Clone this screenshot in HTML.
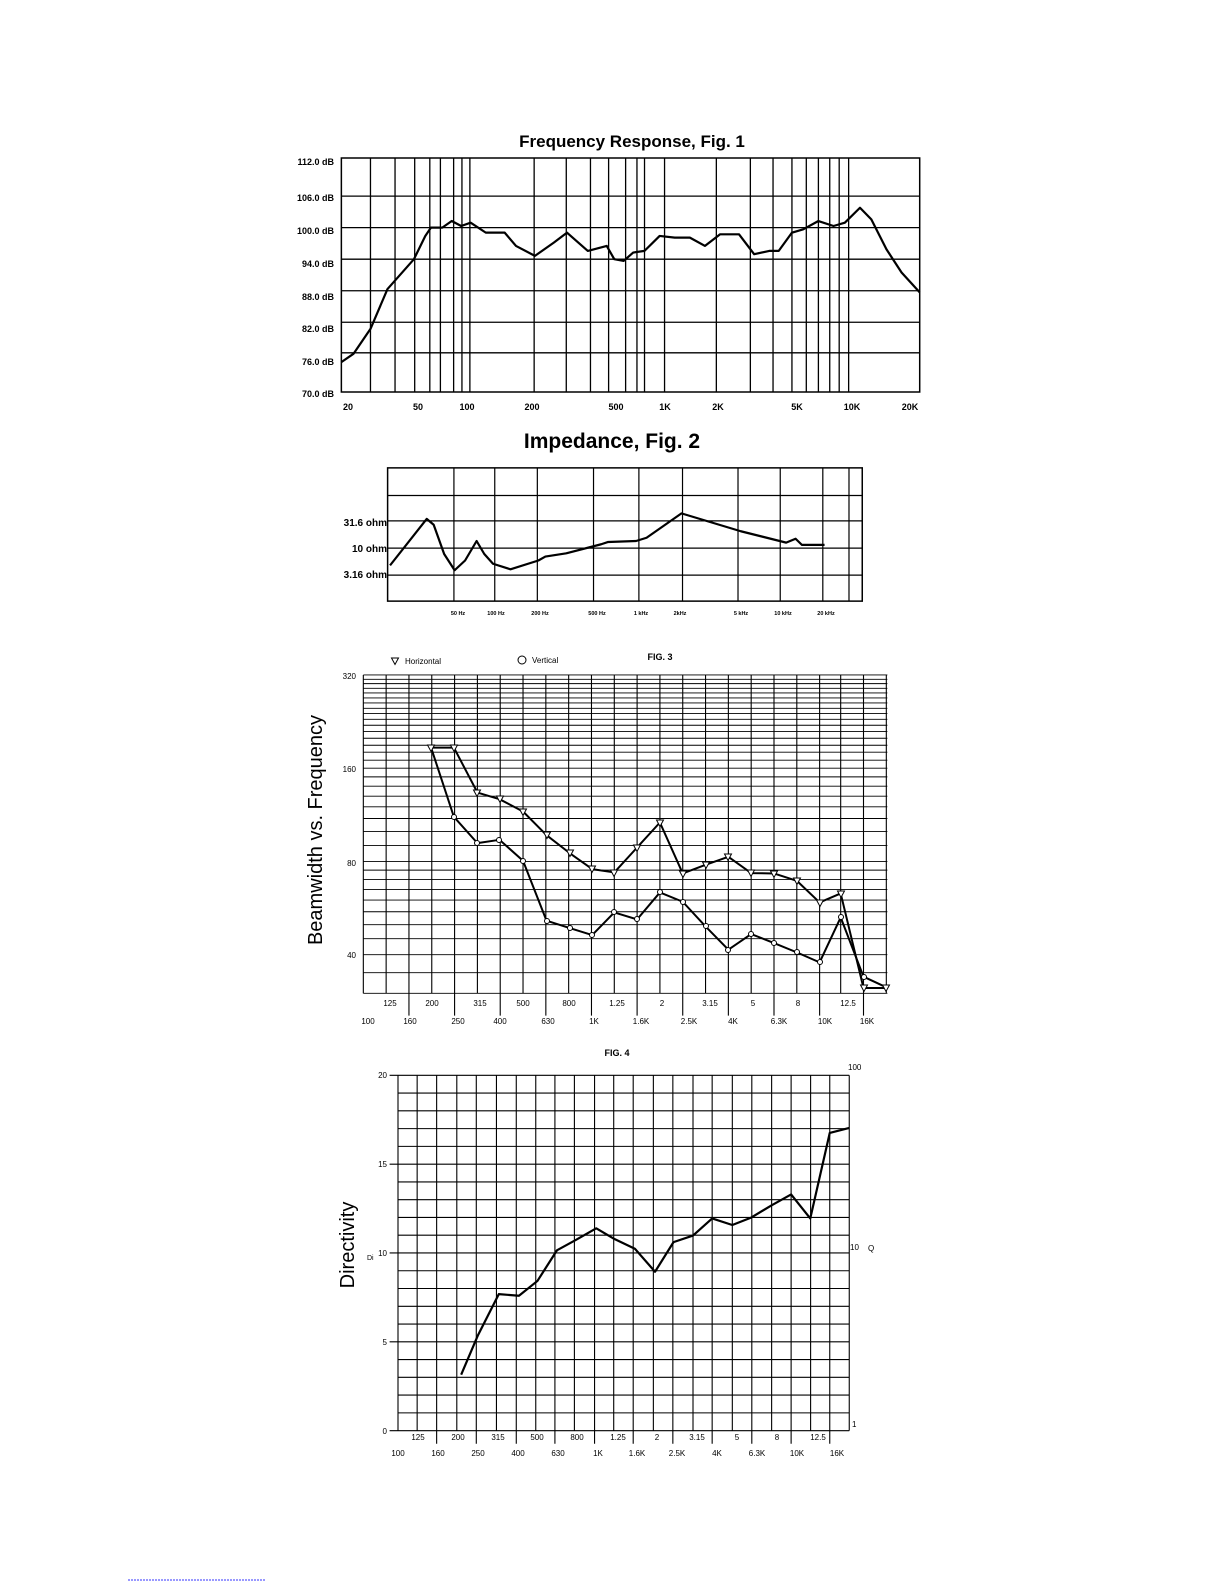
<!DOCTYPE html>
<html><head><style>
body{margin:0;background:#fff}
svg{display:block}
text{font-family:"Liberation Sans",sans-serif;fill:#000}
.b{font-weight:bold}
</style></head><body>
<svg width="1225" height="1585" viewBox="0 0 1225 1585" xmlns="http://www.w3.org/2000/svg">
<defs><path id="t" d="M-3.5 -3 L3.5 -3 L0 3.5 Z" fill="#fff" stroke="#000" stroke-width="1"/></defs>
<rect width="1225" height="1585" fill="#fff"/>

<!-- FIG 1 -->
<text x="632" y="147" font-size="17" class="b" text-anchor="middle">Frequency Response, Fig. 1</text>
<g font-size="9" class="b" text-anchor="end">
<text x="334" y="165">112.0 dB</text><text x="334" y="201">106.0 dB</text><text x="334" y="234">100.0 dB</text>
<text x="334" y="267">94.0 dB</text><text x="334" y="300">88.0 dB</text><text x="334" y="332">82.0 dB</text>
<text x="334" y="365">76.0 dB</text><text x="334" y="397">70.0 dB</text></g>
<g font-size="9" class="b" text-anchor="middle">
<text x="348" y="410">20</text><text x="418" y="410">50</text><text x="467" y="410">100</text><text x="532" y="410">200</text>
<text x="616" y="410">500</text><text x="665" y="410">1K</text><text x="718" y="410">2K</text><text x="797" y="410">5K</text>
<text x="852" y="410">10K</text><text x="910" y="410">20K</text></g>
<g transform="translate(327,143) scale(0.378,0.332)" fill="none" stroke="#000">
<rect x="38" y="45" width="1530" height="705" vector-effect="non-scaling-stroke" stroke-width="1.5"/>
<path vector-effect="non-scaling-stroke" stroke-width="1.3" d="M38 160H1568M38 255H1568M38 350H1568M38 445H1568M38 540H1568M38 632H1568
M115 45V750M180 45V750M232 45V750M272 45V750M300 45V750M335 45V750M357 45V750M378 45V750M548 45V750M633 45V750M697 45V750M745 45V750M790 45V750M820 45V750M840 45V750M893 45V750M1030 45V750M1120 45V750M1180 45V750M1230 45V750M1268 45V750M1300 45V750M1330 45V750M1355 45V750M1380 45V750"/>
<path vector-effect="non-scaling-stroke" stroke-width="2.2" stroke-linejoin="round" d="M38 660 L70 635 L115 560 L160 440 L230 350 L260 280 L275 255 L305 255 L330 235 L355 250 L380 240 L420 270 L470 270 L500 310 L550 340 L600 300 L635 270 L690 325 L740 310 L760 350 L785 355 L810 330 L840 325 L880 280 L920 285 L960 285 L1000 310 L1040 275 L1090 275 L1130 335 L1170 325 L1195 325 L1230 270 L1260 260 L1300 235 L1340 250 L1370 240 L1410 195 L1440 230 L1480 320 L1520 390 L1568 450"/>
</g>

<!-- FIG 2 -->
<text x="612" y="448" font-size="21" class="b" text-anchor="middle">Impedance, Fig. 2</text>
<g font-size="10" class="b" text-anchor="end">
<text x="387" y="526">31.6 ohm</text><text x="387" y="552">10 ohm</text><text x="387" y="578">3.16 ohm</text></g>
<g font-size="5.5" class="b" text-anchor="middle">
<text x="458" y="615">50 Hz</text><text x="496" y="615">100 Hz</text><text x="540" y="615">200 Hz</text>
<text x="597" y="615">500 Hz</text><text x="641" y="615">1 kHz</text><text x="680" y="615">2kHz</text>
<text x="741" y="615">5 kHz</text><text x="783" y="615">10 kHz</text><text x="826" y="615">20 kHz</text></g>
<g transform="translate(322,450) scale(0.349,0.325)" fill="none" stroke="#000">
<rect x="188" y="55" width="1360" height="410" vector-effect="non-scaling-stroke" stroke-width="1.5"/>
<path vector-effect="non-scaling-stroke" stroke-width="1.2" d="M188 140H1548M188 218H1548M188 302H1548M188 385H1548
M378 55V465M495 55V465M617 55V465M778 55V465M908 55V465M1033 55V465M1192 55V465M1313 55V465M1435 55V465M1510 55V465"/>
<path vector-effect="non-scaling-stroke" stroke-width="2.2" stroke-linejoin="round" d="M195 355 L300 212 L320 230 L350 320 L380 370 L410 340 L443 280 L465 320 L490 350 L540 367 L620 340 L640 328 L700 318 L800 290 L820 283 L900 280 L930 270 L1030 195 L1200 250 L1330 285 L1357 273 L1375 292 L1440 292"/>
</g>

<!-- FIG 3 -->
<text x="660" y="660" font-size="9" class="b" text-anchor="middle">FIG. 3</text>
<use href="#t" x="395" y="661"/><text x="405" y="664" font-size="8">Horizontal</text>
<circle cx="522" cy="660" r="4" fill="none" stroke="#000"/><text x="532" y="663" font-size="8">Vertical</text>
<text transform="translate(322,830) rotate(-90)" font-size="20" text-anchor="middle">Beamwidth vs. Frequency</text>
<g font-size="8" text-anchor="end"><text x="356" y="679">320</text><text x="356" y="772">160</text><text x="356" y="866">80</text><text x="356" y="958">40</text></g>
<g font-size="8" text-anchor="middle">
<text x="390" y="1006">125</text><text x="432" y="1006">200</text><text x="480" y="1006">315</text><text x="523" y="1006">500</text><text x="569" y="1006">800</text><text x="617" y="1006">1.25</text><text x="662" y="1006">2</text><text x="710" y="1006">3.15</text><text x="753" y="1006">5</text><text x="798" y="1006">8</text><text x="848" y="1006">12.5</text>
<text x="368" y="1024">100</text><text x="410" y="1024">160</text><text x="458" y="1024">250</text><text x="500" y="1024">400</text><text x="548" y="1024">630</text><text x="594" y="1024">1K</text><text x="641" y="1024">1.6K</text><text x="689" y="1024">2.5K</text><text x="733" y="1024">4K</text><text x="779" y="1024">6.3K</text><text x="825" y="1024">10K</text><text x="867" y="1024">16K</text></g>
<g transform="translate(337,651) scale(0.351,0.333)" fill="none" stroke="#000">
<path vector-effect="non-scaling-stroke" stroke-width="0.9" d="M75 72H1568M75 85H1568M75 98H1568M75 112H1568M75 126H1568M75 141H1568M75 156H1568M75 172H1568M75 188H1568M75 205H1568M75 223H1568M75 242H1568M75 262H1568M75 283H1568M75 304H1568M75 328H1568M75 352H1568M75 378H1568M75 406H1568M75 436H1568M75 468H1568M75 503H1568M75 542H1568M75 584H1568M75 632H1568M75 658H1568M75 686H1568M75 716H1568M75 748H1568M75 783H1568M75 822H1568M75 864H1568M75 912H1568M75 966H1568M75 1028H1568"/>
<path vector-effect="non-scaling-stroke" stroke-width="1.1" d="M75 72V1028M140 72V1028M205 72V1095M270 72V1028M335 72V1095M400 72V1028M465 72V1095M530 72V1028M595 72V1095M660 72V1028M725 72V1095M790 72V1028M855 72V1095M920 72V1028M985 72V1095M1050 72V1028M1115 72V1095M1180 72V1028M1245 72V1095M1310 72V1028M1375 72V1095M1435 72V1028M1500 72V1095M1565 72V1028"/>
<path vector-effect="non-scaling-stroke" stroke-width="2" stroke-linejoin="round" d="M268 290 L333 290 L400 425 L463 445 L530 482 L597 553 L663 607 L727 655 L790 665 L855 590 L920 515 L985 668 L1050 642 L1115 618 L1180 667 L1245 668 L1310 690 L1375 755 L1435 728 L1500 1012 L1565 1012"/>
<path vector-effect="non-scaling-stroke" stroke-width="2" stroke-linejoin="round" d="M268 290 L333 498 L400 577 L463 567 L530 630 L597 810 L663 832 L727 853 L790 785 L855 806 L920 725 L985 753 L1050 827 L1115 897 L1180 850 L1245 877 L1310 905 L1375 935 L1435 800 L1500 978 L1565 1010"/>
</g>
<g>
<use href="#t" x="431" y="748"/><use href="#t" x="454" y="748"/><use href="#t" x="477" y="793"/><use href="#t" x="500" y="799"/><use href="#t" x="523" y="812"/><use href="#t" x="547" y="835"/><use href="#t" x="570" y="853"/><use href="#t" x="592" y="869"/><use href="#t" x="614" y="873"/><use href="#t" x="637" y="848"/><use href="#t" x="660" y="823"/><use href="#t" x="683" y="874"/><use href="#t" x="706" y="865"/><use href="#t" x="728" y="857"/><use href="#t" x="751" y="873"/><use href="#t" x="774" y="874"/><use href="#t" x="797" y="881"/><use href="#t" x="820" y="903"/><use href="#t" x="841" y="894"/><use href="#t" x="864" y="988"/><use href="#t" x="886" y="988"/>
</g>
<g fill="#fff" stroke="#000" stroke-width="1">
<circle cx="454" cy="817" r="2.5"/><circle cx="477" cy="843" r="2.5"/><circle cx="499" cy="840" r="2.5"/><circle cx="523" cy="861" r="2.5"/><circle cx="547" cy="921" r="2.5"/><circle cx="570" cy="928" r="2.5"/><circle cx="592" cy="935" r="2.5"/><circle cx="614" cy="912" r="2.5"/><circle cx="637" cy="919" r="2.5"/><circle cx="660" cy="892" r="2.5"/><circle cx="683" cy="902" r="2.5"/><circle cx="706" cy="926" r="2.5"/><circle cx="728" cy="950" r="2.5"/><circle cx="751" cy="934" r="2.5"/><circle cx="774" cy="943" r="2.5"/><circle cx="797" cy="952" r="2.5"/><circle cx="820" cy="962" r="2.5"/><circle cx="841" cy="917" r="2.5"/><circle cx="864" cy="977" r="2.5"/>
</g>

<!-- FIG 4 -->
<text x="617" y="1056" font-size="9" class="b" text-anchor="middle">FIG. 4</text>
<text transform="translate(354,1245) rotate(-90)" font-size="20" text-anchor="middle">Directivity</text>
<text x="367" y="1260" font-size="7">Di</text>
<g font-size="8" text-anchor="end"><text x="387" y="1078">20</text><text x="387" y="1167">15</text><text x="387" y="1256">10</text><text x="387" y="1345">5</text><text x="387" y="1434">0</text></g>
<g font-size="8"><text x="848" y="1070">100</text><text x="850" y="1250">10</text><text x="868" y="1251">Q</text><text x="852" y="1427">1</text></g>
<g font-size="8" text-anchor="middle">
<text x="418" y="1440">125</text><text x="458" y="1440">200</text><text x="498" y="1440">315</text><text x="537" y="1440">500</text><text x="577" y="1440">800</text><text x="618" y="1440">1.25</text><text x="657" y="1440">2</text><text x="697" y="1440">3.15</text><text x="737" y="1440">5</text><text x="777" y="1440">8</text><text x="818" y="1440">12.5</text>
<text x="398" y="1456">100</text><text x="438" y="1456">160</text><text x="478" y="1456">250</text><text x="518" y="1456">400</text><text x="558" y="1456">630</text><text x="598" y="1456">1K</text><text x="637" y="1456">1.6K</text><text x="677" y="1456">2.5K</text><text x="717" y="1456">4K</text><text x="757" y="1456">6.3K</text><text x="797" y="1456">10K</text><text x="837" y="1456">16K</text></g>
<g transform="translate(356,1049) scale(0.336,0.329)" fill="none" stroke="#000">
<path vector-effect="non-scaling-stroke" stroke-width="1.1" d="M100 80H1468M125 134H1468M125 188H1468M125 242H1468M125 296H1468M100 350H1468M125 404H1468M125 458H1468M125 512H1468M125 566H1468M100 620H1468M125 674H1468M125 728H1468M125 782H1468M125 836H1468M100 890H1468M125 944H1468M125 998H1468M125 1052H1468M125 1106H1468M100 1160H1468
M125 80V1160M182 80V1160M240 80V1200M300 80V1160M358 80V1200M418 80V1160M477 80V1200M535 80V1160M592 80V1200M650 80V1160M710 80V1200M767 80V1160M825 80V1200M885 80V1160M943 80V1200M1003 80V1160M1060 80V1200M1120 80V1160M1178 80V1200M1237 80V1160M1295 80V1200M1353 80V1160M1410 80V1200M1468 80V1160"/>
<path vector-effect="non-scaling-stroke" stroke-width="2.2" stroke-linejoin="round" d="M313 990 L363 870 L425 745 L485 750 L540 705 L598 612 L655 580 L715 545 L770 578 L830 607 L890 677 L945 587 L1003 567 L1060 515 L1120 535 L1175 513 L1237 475 L1295 442 L1352 515 L1410 255 L1468 240"/>
</g>
<path d="M128 1580H265" stroke="#33f" stroke-width="1" stroke-dasharray="2,1"/>
</svg>
</body></html>
